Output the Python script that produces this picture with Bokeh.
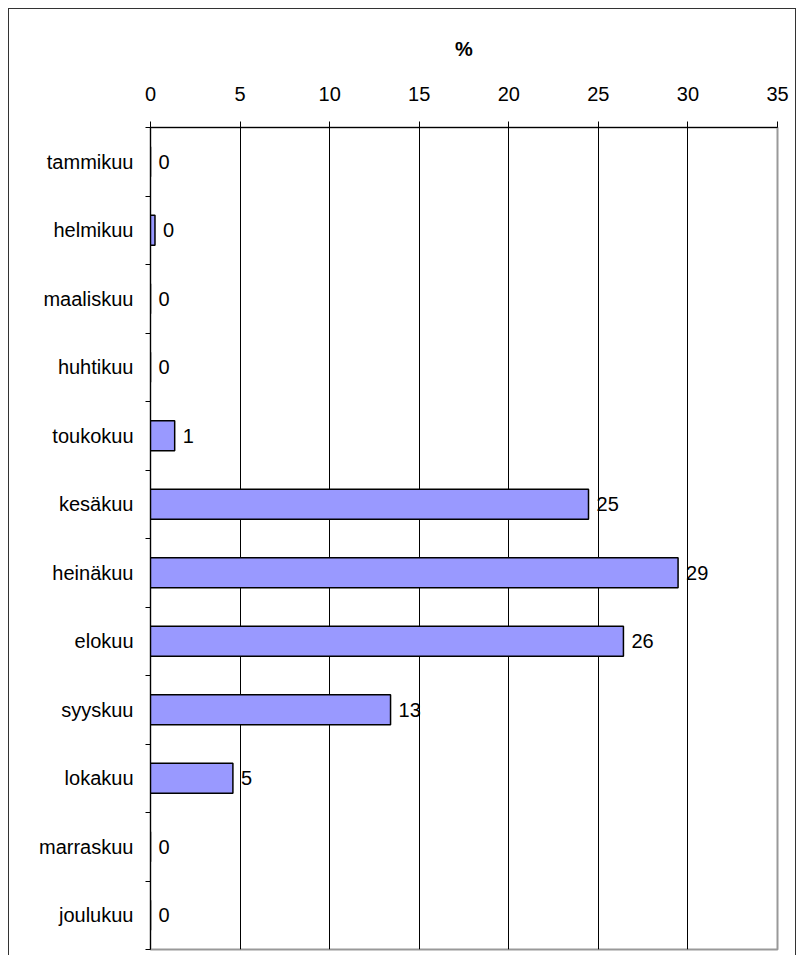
from bokeh.plotting import figure
from bokeh.models import Range1d, FixedTicker, ColumnDataSource
from bokeh.core.properties import value
from bokeh.embed import file_html
from bokeh.resources import INLINE

months = ["tammikuu", "helmikuu", "maaliskuu", "huhtikuu", "toukokuu", "kesäkuu",
          "heinäkuu", "elokuu", "syyskuu", "lokakuu", "marraskuu", "joulukuu"]
percent = [0, 0.25, 0, 0, 1.35, 24.45, 29.45, 26.4, 13.4, 4.6, 0, 0]
labels = ["0", "0", "0", "0", "1", "25", "29", "26", "13", "5", "0", "0"]
x_ticks = [0, 5, 10, 15, 20, 25, 30, 35]

FONT = "Liberation Sans"

pos = [i + 0.5 for i in range(len(months))]
src = ColumnDataSource(dict(y=pos, v=percent, lab=labels))

p = figure(width=788, height=947, output_backend="svg", toolbar_location=None,
           x_range=Range1d(0, 35), y_range=Range1d(len(months), 0),
           x_axis_location="above",
           min_border_left=141, min_border_right=20, min_border_top=118, min_border_bottom=7)
p.styles = {"border": "1px solid #333333", "border-bottom": "none",
            "margin": "8px 8px 0px 8px"}
p.background_fill_color = "white"
p.border_fill_color = "white"
p.outline_line_color = "#999999"
p.outline_line_width = 2

# x axis (top)
xa = p.xaxis[0]
xa.ticker = FixedTicker(ticks=x_ticks)
xa.minor_tick_line_color = None
xa.major_tick_out = 6
xa.major_tick_in = 0
xa.axis_line_color = "black"
xa.major_tick_line_color = "black"
xa.major_label_text_font = FONT
xa.major_label_text_font_size = "20px"
xa.major_label_text_color = "black"
xa.major_label_standoff = 21
xa.axis_label = "%"
xa.axis_label_text_font = FONT
xa.axis_label_text_font_style = "bold"
xa.axis_label_text_font_size = "20px"
xa.axis_label_text_color = "black"
xa.axis_label_standoff = 24

# y axis (left)
ya = p.yaxis[0]
ya.ticker = FixedTicker(ticks=pos, minor_ticks=list(range(len(months) + 1)))
ya.major_label_overrides = {pv: m for pv, m in zip(pos, months)}
ya.major_tick_out = 0
ya.major_tick_in = 0
ya.minor_tick_out = 5
ya.minor_tick_in = 0
ya.minor_tick_line_color = "black"
ya.axis_line_color = "black"
ya.major_label_text_font = FONT
ya.major_label_text_font_size = "20px"
ya.major_label_text_color = "black"
ya.major_label_standoff = 12

p.xgrid.ticker = FixedTicker(ticks=x_ticks[1:-1])
p.xgrid.grid_line_color = "black"
p.xgrid.grid_line_width = 1
p.ygrid.grid_line_color = None

p.hbar(y="y", left=0, right="v", height=0.44, source=src,
       fill_color="#9999FF", line_color="black", line_width=1.5)

p.text(x="v", y="y", text="lab", source=src, x_offset=8,
       text_font=value(FONT), text_font_size="20px", text_color="black",
       text_align="left", text_baseline="middle")

open("out.html", "w").write(file_html(p, INLINE))
